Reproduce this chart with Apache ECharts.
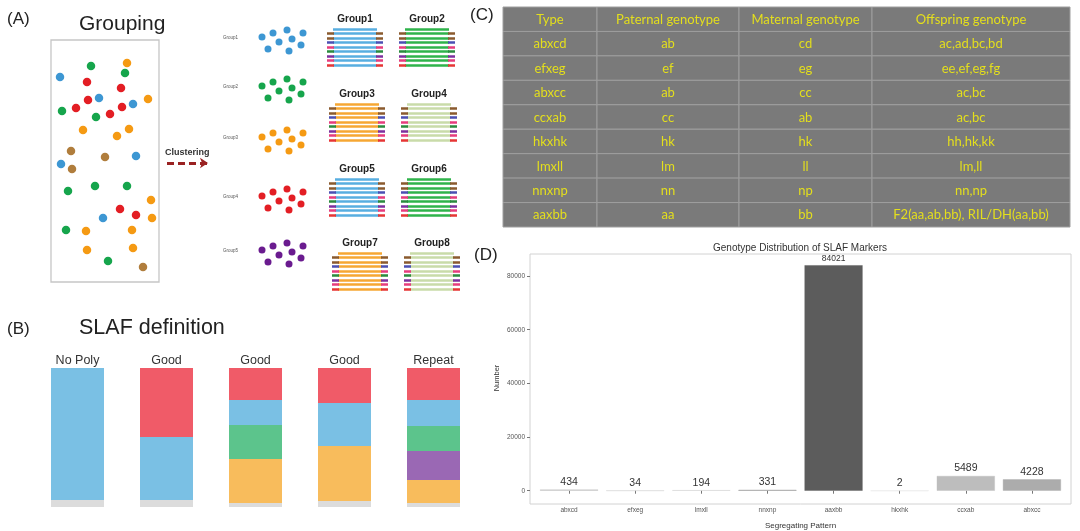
<!DOCTYPE html>
<html><head><meta charset="utf-8">
<script src="https://cdn.jsdelivr.net/npm/echarts@6/dist/echarts.min.js"></script>
<style>html,body{margin:0;padding:0;background:#fff}#c{width:1080px;height:531px}</style>
</head><body><div id="c"></div>
<script>
// ---------- Panel D data ----------
const patterns = ['abxcd','efxeg','lmxll','nnxnp','aaxbb','hkxhk','ccxab','abxcc'];
const markerCounts = [434, 34, 194, 331, 84021, 2, 5489, 4228];
const yTicks = [0, 20000, 40000, 60000, 80000];

// ---------- Panel C data ----------
const tableHeader = ['Type','Paternal genotype','Maternal genotype','Offspring genotype'];
const types = ['abxcd','efxeg','abxcc','ccxab','hkxhk','lmxll','nnxnp','aaxbb'];
const paternal = ['ab','ef','ab','cc','hk','lm','nn','aa'];
const maternal = ['cd','eg','cc','ab','hk','ll','np','bb'];
const offspring = ['ac,ad,bc,bd','ee,ef,eg,fg','ac,bc','ac,bc','hh,hk,kk','lm,ll','nn,np','F2(aa,ab,bb), RIL/DH(aa,bb)'];

// ---------- Panel B data (segment heights, bottom to top) ----------
const slafLabels = ['No Poly','Good','Good','Good','Repeat'];
const slafBase   = [7, 7, 4, 6, 4];
const slafOrange = [0, 0, 44, 55, 23];
const slafPurple = [0, 0, 0, 0, 29];
const slafGreen  = [0, 0, 34, 0, 25];
const slafBlue   = [132, 63, 25, 43, 26];
const slafRed    = [0, 69, 32, 35, 32];

// ---------- Panel A data (dots inside the box, box units) ----------
const boxGreen  = [[40,26],[74,33],[11,71],[45,77],[17,151],[44,146],[76,146],[15,190],[57,221]];
const boxOrange = [[76,23],[97,59],[32,90],[78,89],[66,96],[100,160],[101,178],[35,191],[81,190],[36,210],[82,208]];
const boxBlue   = [[9,37],[48,58],[82,64],[85,116],[10,124],[52,178]];
const boxRed    = [[36,42],[70,48],[37,60],[25,68],[71,67],[59,74],[69,169],[85,175]];
const boxBrown  = [[20,111],[54,117],[21,129],[92,227]];
const clusterShape = [[262,37],[273,33],[287,30],[303,33],[279,42],[292,39],[301,45],[268,49],[289,51]];
const clusterShift = [0, 49, 100, 159, 213];
const clusterNames = ['Group1','Group2','Group3','Group4','Group5'];
const stackNames = ['Group1','Group2','Group3','Group4','Group5','Group6','Group7','Group8'];

// ---------- layout / styles ----------
const stackLeft = [327,399,329,401,329,401,332,404];
const stackTop  = [29,29,104,104,179,179,253,253];
const stackColors = ['#58aee0','#2fb34b','#f6a733','#c9dba9','#58aee0','#2fb34b','#f6a733','#c9dba9'];
const capColors = ['#8a5a2e','#8a5a2e','#4b4fb3','#e63c7d','#2a8b3e','#7d2f9e','#e63c7d','#e63535'];
const clusterColors = ['#3d97d3','#16a54c','#f59a13','#e31e24','#6a1b8f'];
const dColors = ['#c4c4c4','#d0d0d0','#cdcdcd','#9e9e9e','#5c5c5c','#e0e0e0','#bdbdbd','#acacac'];
const FONT = '"Liberation Sans", Arial, sans-serif';

const chart = echarts.init(document.getElementById('c'), null, {renderer:'canvas'});

function stackLines(){
  const items = [];
  stackNames.forEach((n,k)=>{
    const L = stackLeft[k], R = L + 56, T = stackTop[k], c = stackColors[k];
    items.push({coords:[[L+6,T],[R-6,T]], lineStyle:{color:c}});
    capColors.forEach((cap,i)=>{
      const y = T + 4.5*(i+1);
      items.push({coords:[[L+6,y],[R-6,y]], lineStyle:{color:c}});
      items.push({coords:[[L,y],[L+7,y]], lineStyle:{color:cap}});
      items.push({coords:[[R-7,y],[R,y]], lineStyle:{color:cap}});
    });
  });
  return items;
}

function txt(x,y,text,font,fill,align){
  return {type:'text', x:x, y:y, silent:true, style:{text:text, font:font, fill:fill||'#222', align:align||'left', verticalAlign:'middle'}};
}

const series = [];
// Panel A box dots
[[boxGreen,'#16a54c'],[boxOrange,'#f59a13'],[boxBlue,'#3d97d3'],[boxRed,'#e31e24'],[boxBrown,'#b07d3c']].forEach(([d,c])=>{
  series.push({type:'scatter', xAxisIndex:1, yAxisIndex:1, data:d, symbolSize:8.5, itemStyle:{color:c, opacity:1}, silent:true});
});
// cluster dots
clusterShift.forEach((s,g)=>{
  series.push({type:'scatter', xAxisIndex:0, yAxisIndex:0, symbolSize:7, itemStyle:{color:clusterColors[g], opacity:1}, silent:true,
    data: clusterShape.map(p=>[p[0], p[1]+s])});
});
// stacks
series.push({type:'lines', coordinateSystem:'cartesian2d', xAxisIndex:0, yAxisIndex:0, silent:true,
  lineStyle:{width:2.7, opacity:1, curveness:0}, data: stackLines()});
// arrow
series.push({type:'lines', coordinateSystem:'cartesian2d', xAxisIndex:0, yAxisIndex:0, silent:true,
  symbol:['none','arrow'], symbolSize:8,
  lineStyle:{width:3, opacity:1, color:'#9a2222', type:[7,4]},
  data:[{coords:[[167,163],[208,163]]}]});

// Panel B
[[slafBase,'#dcdcdc'],[slafOrange,'#f8bc5c'],[slafPurple,'#9a68b4'],[slafGreen,'#5cc48c'],[slafBlue,'#7ac0e4'],[slafRed,'#f05b68']].forEach(([d,c])=>{
  series.push({type:'bar', xAxisIndex:2, yAxisIndex:2, stack:'slaf', barWidth:53, data:d, itemStyle:{color:c}, silent:true});
});

// Panel C table
const tableCols = [[tableHeader[0]].concat(types),[tableHeader[1]].concat(paternal),[tableHeader[2]].concat(maternal),[tableHeader[3]].concat(offspring)];
tableCols.forEach((col,ci)=>{
  series.push({type:'custom', xAxisIndex:3+ci, yAxisIndex:3+ci, silent:true,
    data: col.map((t,r)=>[0,r]),
    renderItem:function(params, api){
      const p = api.coord([api.value(0), api.value(1)]);
      const s = api.size([1,1]);
      return {type:'group', children:[
        {type:'rect', shape:{x:p[0]-s[0]/2, y:p[1]-s[1]/2, width:s[0], height:s[1]},
          style:{fill:'#7a7a7a', stroke:'#9e9e9e', lineWidth:1}},
        {type:'text', x:p[0], y:p[1]+0.5, style:{text:col[params.dataIndex], fill:'#e4df1c',
          font:'13px Lato, "Open Sans", sans-serif', align:'center', verticalAlign:'middle'}}
      ]};
    }});
});

// Panel D bars
const maxCount = Math.max.apply(null, markerCounts);
series.push({type:'bar', xAxisIndex:8, yAxisIndex:8, barWidth:58, silent:true,
  label:{show:true, position:'top', distance:2, fontSize:10.5, color:'#333', fontFamily:FONT},
  data: markerCounts.map((v,i)=>{
    const it = {value:v, itemStyle:{color:dColors[i], borderColor:dColors[i], borderWidth:0.4}};
    if (v === maxCount) it.label = {fontSize:8.5};
    return it;
  })});

const hiddenV = (g,min,max,inv)=>({type:'value', gridIndex:g, min:min, max:max, inverse:!!inv, show:false});
const tableGrids = [[503,94],[597,142],[739,133],[872,198]];

const option = {
  animation:false,
  backgroundColor:'#ffffff',
  grid:[
    {left:0, top:0, width:480, height:300, show:false},
    {left:51, top:40, width:108, height:242, show:true, borderColor:'#c6c6c6', borderWidth:1.3, backgroundColor:'#fff'},
    {left:33, top:368, width:445, height:139, show:false},
  ].concat(tableGrids.map(g=>({left:g[0], top:7, width:g[1], height:220, show:false})))
   .concat([
    {left:530, top:254, width:541, height:250, show:true, borderColor:'#d2d2d2', borderWidth:1, backgroundColor:'#fff'},
    {left:536, top:254, width:529, height:250, show:false}
  ]),
  xAxis:[
    hiddenV(0,0,480),
    hiddenV(1,0,108),
    {type:'category', gridIndex:2, position:'top', data:slafLabels.map((_,i)=>String(i)),
      axisLine:{show:false}, axisTick:{show:false},
      axisLabel:{margin:1, fontSize:12.5, color:'#333', fontFamily:FONT, formatter:v=>slafLabels[+v]}},
  ].concat(tableGrids.map((g,i)=>({type:'category', gridIndex:3+i, data:['c'], show:false})))
   .concat([
    hiddenV(7,0,1),
    {type:'category', gridIndex:8, data:patterns,
      axisLine:{show:false}, axisTick:{show:true, alignWithLabel:true, length:3, lineStyle:{color:'#777'}},
      axisLabel:{fontSize:6.5, color:'#555', margin:5, fontFamily:FONT},
      name:'Segregating Pattern', nameLocation:'middle', nameGap:20,
      nameTextStyle:{fontSize:8, color:'#333', fontFamily:FONT}}
  ]),
  yAxis:[
    hiddenV(0,0,300,true),
    hiddenV(1,0,242,true),
    hiddenV(2,0,139),
  ].concat(tableGrids.map((g,i)=>({type:'category', gridIndex:3+i, data:tableCols[0].map((_,r)=>String(r)), inverse:true, show:false})))
   .concat([
    hiddenV(7,0,1),
    {type:'value', gridIndex:8, min:-4201, max:88222, offset:6,
      axisLine:{show:false}, splitLine:{show:false},
      axisTick:{show:true, length:3, customValues:yTicks, lineStyle:{color:'#777'}},
      axisLabel:{fontSize:6.5, color:'#555', margin:5, customValues:yTicks, fontFamily:FONT, formatter:v=>String(v)},
      name:'Number', nameLocation:'middle', nameGap:29, nameRotate:90,
      nameTextStyle:{fontSize:7.5, color:'#333', fontFamily:FONT}}
  ]),
  series: series,
  graphic:{elements:[
    txt(7,19,'(A)','17px '+FONT,'#222'),
    txt(79,24,'Grouping','21px '+FONT,'#222'),
    txt(7,329,'(B)','17px '+FONT,'#222'),
    txt(79,328,'SLAF definition','21.5px '+FONT,'#222'),
    txt(470,15,'(C)','17px '+FONT,'#222'),
    txt(474,255,'(D)','17px '+FONT,'#222'),
    txt(165,153,'Clustering','bold 9px '+FONT,'#333'),
    txt(800,248,'Genotype Distribution of SLAF Markers','10px '+FONT,'#333','center')
  ].concat(clusterNames.map((n,g)=>txt(223,38+clusterShift[g],n,'4.5px '+FONT,'#555')))
   .concat(stackNames.map((n,k)=>txt(stackLeft[k]+28,stackTop[k]-10,n,'bold 10px '+FONT,'#222','center')))}
};
chart.setOption(option);
</script></body></html>
